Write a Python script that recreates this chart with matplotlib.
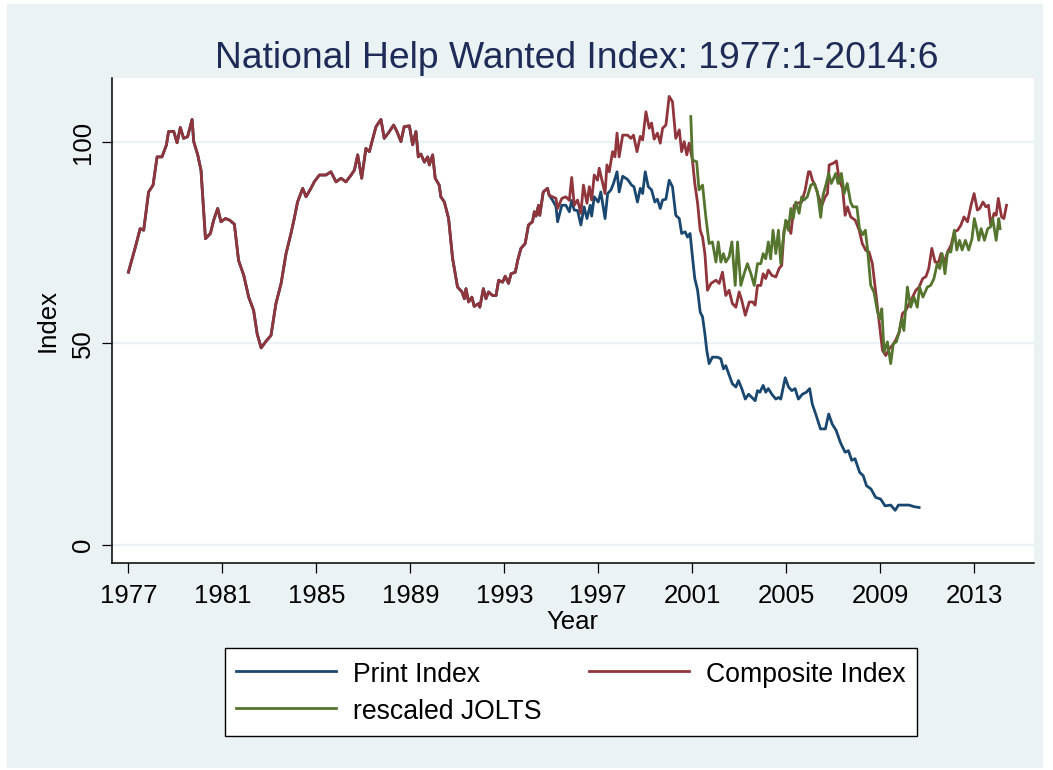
import matplotlib
matplotlib.use('Agg')
import matplotlib.pyplot as plt
from matplotlib.patches import Rectangle

plt.rcParams['font.family'] = ['Liberation Sans', 'DejaVu Sans']

# ---------------- data ----------------
# common segment: print index == composite index (1977 - 1994)
common_t = [1977.00, 1977.30, 1977.50, 1977.65, 1977.86, 1978.05, 1978.22, 1978.43, 1978.62, 1978.71,
            1978.93, 1979.07, 1979.21, 1979.35, 1979.52, 1979.71, 1979.78, 1979.95, 1980.09, 1980.28,
            1980.49, 1980.63, 1980.80, 1980.94, 1981.13, 1981.31, 1981.51, 1981.69, 1981.91, 1982.12,
            1982.33, 1982.48, 1982.65, 1982.85, 1983.07, 1983.28, 1983.50, 1983.71, 1983.92, 1984.06,
            1984.20, 1984.42, 1984.56, 1984.77, 1984.91, 1985.13, 1985.41, 1985.62, 1985.84, 1986.05,
            1986.26, 1986.48, 1986.62, 1986.76, 1986.93, 1987.11, 1987.26, 1987.35, 1987.54, 1987.75,
            1987.89, 1988.11, 1988.29, 1988.43, 1988.60, 1988.74, 1988.96, 1989.10, 1989.24, 1989.34,
            1989.45, 1989.60, 1989.74, 1989.81, 1989.95, 1990.06, 1990.23, 1990.30, 1990.45, 1990.63,
            1990.80, 1991.01, 1991.20, 1991.30, 1991.37, 1991.48, 1991.62, 1991.72, 1991.91, 1991.96,
            1992.11, 1992.22, 1992.33, 1992.50, 1992.65, 1992.76, 1992.93, 1993.04, 1993.18, 1993.29,
            1993.47, 1993.57, 1993.71, 1993.89, 1994.03, 1994.20, 1994.28, 1994.35, 1994.46, 1994.51,
            1994.66, 1994.84, 1994.91]
common_v = [67.7, 74.0, 78.5, 78.1, 87.6, 89.3, 96.3, 96.3, 99.3, 102.6,
            102.6, 99.8, 103.6, 100.9, 101.3, 105.6, 100.1, 96.8, 93.0, 76.0,
            77.3, 80.6, 83.5, 80.2, 81.0, 80.6, 79.6, 70.6, 66.9, 61.5,
            58.2, 52.4, 48.9, 50.5, 52.0, 59.9, 64.9, 72.3, 77.3, 81.0,
            85.1, 88.5, 86.4, 88.5, 90.1, 91.8, 91.8, 92.6, 90.1, 91.0,
            90.1, 91.8, 93.0, 96.8, 91.0, 98.4, 97.6, 99.7, 103.8, 105.6,
            100.9, 102.6, 104.2, 102.6, 100.1, 103.8, 104.0, 99.3, 102.6, 96.3,
            97.0, 95.0, 96.3, 94.3, 96.8, 91.0, 89.3, 86.4, 85.1, 81.0,
            71.1, 64.0, 62.8, 61.1, 63.6, 60.3, 61.5, 59.2, 59.9, 59.0,
            63.6, 61.1, 62.8, 61.9, 61.9, 65.7, 65.2, 66.7, 64.9, 67.3,
            67.7, 70.6, 73.6, 74.8, 79.4, 80.2, 82.7, 81.6, 84.3, 81.8,
            87.6, 88.5, 86.8]

# composite index after the two series split
comp_t = [1995.06, 1995.20, 1995.27, 1995.45, 1995.62, 1995.77, 1995.87, 1995.98, 1996.12, 1996.26,
          1996.37, 1996.52, 1996.62, 1996.72, 1996.83, 1996.97, 1997.04, 1997.14, 1997.29, 1997.37,
          1997.47, 1997.61, 1997.71, 1997.80, 1997.89, 1998.04, 1998.25, 1998.39, 1998.50, 1998.65,
          1998.79, 1998.89, 1999.03, 1999.17, 1999.27, 1999.38, 1999.52, 1999.64, 1999.74, 1999.88,
          2000.02, 2000.16, 2000.30, 2000.45, 2000.55, 2000.66, 2000.77, 2000.87, 2001.01, 2001.11,
          2001.23, 2001.34, 2001.44, 2001.54, 2001.65, 2001.80, 2002.01, 2002.15, 2002.29, 2002.43,
          2002.57, 2002.71, 2002.86, 2003.00, 2003.11, 2003.26, 2003.43, 2003.57, 2003.68, 2003.78,
          2003.92, 2004.02, 2004.13, 2004.24, 2004.39, 2004.56, 2004.70, 2004.81, 2004.91, 2005.05,
          2005.20, 2005.34, 2005.48, 2005.66, 2005.81, 2005.95, 2006.02, 2006.12, 2006.23, 2006.38,
          2006.52, 2006.66, 2006.76, 2006.83, 2007.00, 2007.14, 2007.26, 2007.40, 2007.51, 2007.61,
          2007.75, 2007.94, 2008.11, 2008.24, 2008.39, 2008.53, 2008.67, 2008.81, 2008.96, 2009.10,
          2009.24, 2009.39, 2009.52, 2009.66, 2009.81, 2009.95, 2010.09, 2010.24, 2010.38, 2010.52,
          2010.66, 2010.81, 2010.95, 2011.07, 2011.20, 2011.34, 2011.49, 2011.59, 2011.73, 2011.87,
          2012.02, 2012.16, 2012.30, 2012.44, 2012.57, 2012.72, 2012.87, 2013.00, 2013.14, 2013.24,
          2013.38, 2013.50, 2013.61, 2013.71, 2013.85, 2013.94, 2014.03, 2014.17, 2014.27, 2014.38]
comp_v = [86.4, 86.0, 83.5, 86.0, 86.4, 85.5, 91.2, 84.3, 85.6, 82.3,
          89.3, 84.8, 88.9, 85.6, 91.8, 90.5, 93.5, 91.0, 87.2, 94.3,
          92.6, 97.6, 96.3, 102.2, 96.3, 101.7, 101.7, 100.9, 101.7, 97.6,
          101.4, 100.5, 107.5, 103.4, 104.7, 100.7, 102.2, 99.7, 103.4, 104.2,
          111.3, 110.0, 100.9, 103.0, 97.6, 100.1, 96.8, 99.7, 95.5, 89.7,
          84.8, 78.1, 76.4, 72.3, 63.2, 64.9, 65.7, 64.9, 67.7, 61.9,
          63.2, 59.9, 59.0, 62.8, 60.7, 57.0, 60.3, 60.3, 59.5, 64.4,
          64.4, 67.3, 66.1, 68.2, 66.9, 66.5, 68.6, 69.4, 78.1, 80.2,
          77.3, 84.3, 84.8, 85.1, 88.1, 92.6, 92.6, 90.5, 89.3, 86.4,
          84.3, 86.4, 87.2, 94.3, 94.7, 95.3, 90.5, 88.5, 81.8, 83.9,
          81.4, 80.6, 78.1, 74.8, 73.1, 72.7, 69.8, 62.8, 55.5, 48.3,
          47.0, 48.7, 49.5, 50.8, 52.8, 57.4, 58.2, 59.9, 61.5, 63.2,
          64.0, 66.1, 66.6, 68.6, 73.6, 70.2, 70.2, 72.3, 70.2, 72.7,
          74.4, 77.7, 78.1, 79.4, 81.4, 80.2, 84.3, 87.2, 83.1, 83.5,
          85.1, 83.9, 84.3, 79.4, 82.3, 81.8, 86.0, 81.4, 81.0, 84.3]

# print index after the split
print_t = [1995.06, 1995.20, 1995.27, 1995.45, 1995.62, 1995.77, 1995.87, 1995.98, 1996.12, 1996.26,
           1996.40, 1996.52, 1996.66, 1996.72, 1996.83, 1997.00, 1997.11, 1997.29, 1997.40, 1997.54,
           1997.65, 1997.80, 1997.89, 1998.04, 1998.25, 1998.42, 1998.52, 1998.67, 1998.79, 1998.89,
           1999.00, 1999.13, 1999.27, 1999.41, 1999.52, 1999.64, 1999.74, 1999.88, 2000.02, 2000.16,
           2000.30, 2000.45, 2000.55, 2000.70, 2000.80, 2000.91, 2001.01, 2001.11, 2001.23, 2001.34,
           2001.44, 2001.54, 2001.62, 2001.72, 2001.86, 2002.07, 2002.22, 2002.33, 2002.43, 2002.57,
           2002.71, 2002.86, 2002.97, 2003.11, 2003.26, 2003.40, 2003.54, 2003.68, 2003.78, 2003.88,
           2004.02, 2004.13, 2004.24, 2004.39, 2004.56, 2004.67, 2004.77, 2004.96, 2005.10, 2005.24,
           2005.38, 2005.52, 2005.69, 2005.86, 2006.00, 2006.11, 2006.28, 2006.46, 2006.67, 2006.81,
           2006.96, 2007.13, 2007.31, 2007.51, 2007.65, 2007.79, 2007.93, 2008.13, 2008.28, 2008.42,
           2008.61, 2008.81, 2009.02, 2009.21, 2009.45, 2009.64, 2009.78, 2010.02, 2010.23, 2010.45,
           2010.66]
print_v = [85.5, 84.0, 80.2, 84.3, 84.3, 82.7, 85.5, 83.1, 83.0, 79.4,
           83.9, 81.0, 84.3, 81.6, 86.4, 85.1, 87.6, 81.0, 87.2, 88.1,
           89.7, 92.6, 87.6, 91.5, 90.7, 89.3, 88.9, 85.1, 88.5, 87.2,
           92.6, 88.9, 88.1, 85.1, 85.8, 83.5, 85.6, 85.8, 90.5, 88.9,
           81.8, 81.0, 77.3, 77.7, 76.4, 77.3, 71.5, 66.1, 63.2, 57.8,
           56.6, 52.4, 48.3, 45.0, 46.6, 46.6, 46.2, 43.7, 44.5, 42.2,
           40.0, 39.2, 40.8, 38.8, 36.2, 37.4, 36.6, 35.8, 38.3, 37.9,
           39.6, 37.9, 38.8, 37.4, 36.2, 36.6, 36.2, 41.5, 39.2, 38.3,
           38.8, 36.2, 37.4, 37.9, 38.8, 35.0, 32.1, 28.8, 28.8, 32.5,
           30.0, 28.4, 25.4, 23.0, 23.4, 21.0, 21.4, 18.0, 17.2, 14.7,
           13.9, 11.8, 11.4, 9.7, 9.9, 8.6, 9.9, 9.9, 9.9, 9.5,
           9.3]

# rescaled JOLTS
jolts_t = [2000.94, 2001.01, 2001.19, 2001.29, 2001.44, 2001.58, 2001.72, 2001.86, 2002.01, 2002.11,
           2002.22, 2002.33, 2002.43, 2002.57, 2002.69, 2002.83, 2002.93, 2003.07, 2003.21, 2003.35,
           2003.50, 2003.64, 2003.78, 2003.92, 2004.02, 2004.13, 2004.24, 2004.34, 2004.44, 2004.56,
           2004.67, 2004.77, 2004.86, 2004.98, 2005.09, 2005.20, 2005.30, 2005.41, 2005.55, 2005.66,
           2005.76, 2005.90, 2006.05, 2006.19, 2006.33, 2006.47, 2006.57, 2006.69, 2006.81, 2006.92,
           2007.11, 2007.21, 2007.35, 2007.47, 2007.60, 2007.74, 2007.84, 2008.01, 2008.12, 2008.26,
           2008.37, 2008.46, 2008.60, 2008.74, 2008.89, 2008.99, 2009.07, 2009.17, 2009.31, 2009.45,
           2009.56, 2009.69, 2009.81, 2009.92, 2010.01, 2010.16, 2010.30, 2010.44, 2010.58, 2010.68,
           2010.82, 2011.01, 2011.15, 2011.29, 2011.43, 2011.54, 2011.64, 2011.76, 2011.87, 2012.01,
           2012.16, 2012.26, 2012.38, 2012.49, 2012.63, 2012.77, 2012.91, 2013.01, 2013.11, 2013.20,
           2013.30, 2013.44, 2013.58, 2013.70, 2013.79, 2013.94, 2014.05, 2014.11]
jolts_v = [106.3, 95.5, 95.1, 88.1, 89.3, 81.4, 74.8, 75.2, 70.2, 75.2,
           70.2, 72.3, 70.2, 71.5, 75.2, 64.4, 75.2, 64.4, 67.3, 69.8,
           67.3, 64.4, 69.8, 69.8, 72.3, 71.0, 75.2, 71.0, 78.1, 72.3,
           78.1, 69.8, 75.2, 80.6, 78.1, 83.5, 81.0, 85.1, 82.3, 86.4,
           85.6, 86.4, 89.3, 89.7, 87.6, 81.3, 86.8, 89.3, 92.2, 89.7,
           92.2, 89.7, 92.2, 87.2, 89.7, 85.1, 83.9, 83.9, 78.5, 77.0,
           78.1, 73.6, 64.4, 62.7, 57.8, 56.1, 58.6, 47.8, 50.4, 45.0,
           49.9, 50.4, 52.8, 56.1, 53.2, 64.0, 59.0, 61.5, 59.0, 64.0,
           61.5, 64.0, 64.4, 66.1, 69.8, 68.6, 72.3, 67.3, 72.7, 72.7,
           78.1, 73.2, 75.6, 73.2, 75.6, 73.2, 76.0, 81.0, 78.5, 75.6,
           78.5, 75.6, 78.5, 78.9, 81.0, 75.6, 81.0, 78.5]

series_labels = ['Print Index', 'Composite Index', 'rescaled JOLTS']
x_ticks = list(range(1977, 2014, 4))
y_ticks = [0, 50, 100]
title = 'National Help Wanted Index: 1977:1-2014:6'

# ---------------- styling ----------------
NAVY, MAROON, GREEN = '#1A476F', '#90353B', '#55752F'
BG = '#EAF2F3'
W, H = 1053, 770

fig = plt.figure(figsize=(W / 100, H / 100), dpi=100, facecolor='white')
fig.patches.append(Rectangle((7 / W, 2 / H), (1043 - 7) / W, (768 - 4) / H,
                             transform=fig.transFigure, facecolor=BG,
                             edgecolor='none', zorder=-10))

ax = fig.add_axes([111.5 / W, 1 - 562.7 / H, (1034 - 111.5) / W, (562.7 - 78.3) / H])
ax.set_facecolor('white')

lw = 2.0
h_print, = ax.plot(common_t + print_t, common_v + print_v, color=NAVY, lw=lw,
                   label=series_labels[0], solid_joinstyle='round')
h_comp, = ax.plot(common_t + comp_t, common_v + comp_v, color=MAROON, lw=lw,
                  label=series_labels[1], solid_joinstyle='round')
h_jolts, = ax.plot(jolts_t, jolts_v, color=GREEN, lw=lw,
                   label=series_labels[2], solid_joinstyle='round')

ax.set_xlim(1976.28, 2015.55)
ax.set_ylim(-4.4, 115.8)
ax.set_xticks(x_ticks)
ax.set_yticks(y_ticks)
ax.grid(axis='y', color=BG, lw=1.6)
ax.set_axisbelow(True)
for s in ['top', 'right']:
    ax.spines[s].set_visible(False)
for s in ['left', 'bottom']:
    ax.spines[s].set_linewidth(1.1)
    ax.spines[s].set_color('black')

FS = 18.5
ax.tick_params(axis='x', length=7.5, width=0.9, pad=8, labelsize=FS, colors='black')
ax.tick_params(axis='y', length=7.5, width=0.9, pad=4.5, labelsize=FS, colors='black')
for lab in ax.get_yticklabels():
    lab.set_rotation(90)
    lab.set_va('center')
    lab.set_ha('right')

ax.set_xlabel('Year', fontsize=FS, labelpad=1.5)
ax.set_ylabel('Index', fontsize=FS, labelpad=8)

fig.text(577 / W, 1 - 68 / H, title, ha='center', va='baseline',
         fontsize=26.8, color='#1E2B57')

LFS = 19.2
leg = fig.legend(handles=[h_print, h_jolts, h_comp],
                 labels=[series_labels[0], series_labels[2], series_labels[1]],
                 ncol=2, loc='upper left', bbox_to_anchor=(225 / W, 1 - 648.3 / H),
                 frameon=True, fancybox=False, fontsize=LFS,
                 handlelength=3.75, handleheight=1.15, handletextpad=0.63,
                 columnspacing=1.78, borderpad=0.43, labelspacing=0.32,
                 borderaxespad=0)
leg.get_frame().set_edgecolor('black')
leg.get_frame().set_linewidth(1.0)
leg.get_frame().set_facecolor('white')
leg.get_frame().set_alpha(1)

fig.savefig('out.png', dpi=100, facecolor='white')
